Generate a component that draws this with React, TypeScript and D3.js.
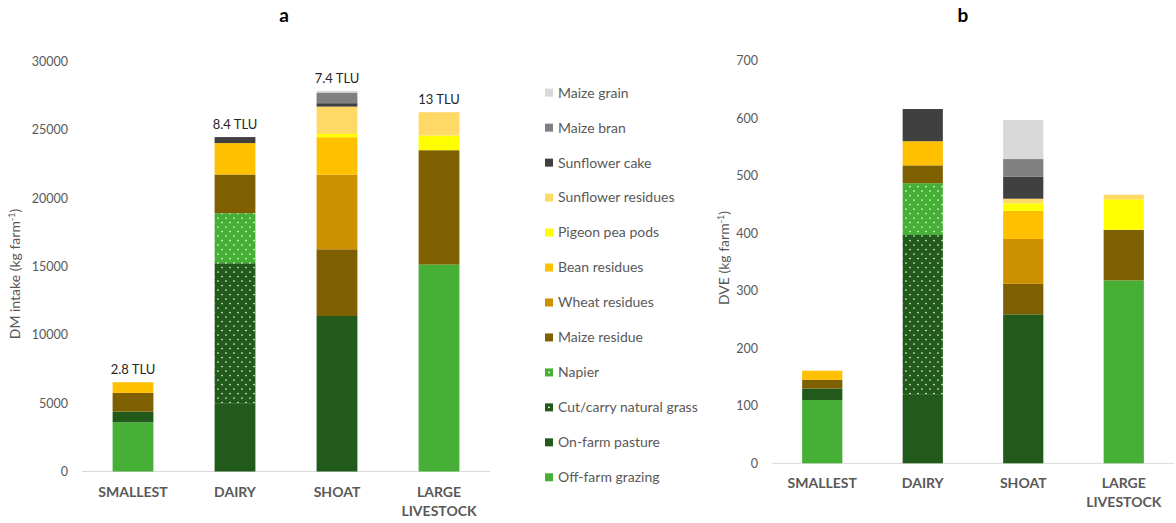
import React, { useEffect, useRef } from "react";
import * as d3 from "d3";

const categories = ["SMALLEST", "DAIRY", "SHOAT", "LARGE LIVESTOCK"];
const tluLabels = ["2.8 TLU", "8.4 TLU", "7.4 TLU", "13 TLU"];

// stacking order bottom -> top
const seriesNames = [
  "Off-farm grazing",
  "On-farm pasture",
  "Cut/carry natural grass",
  "Napier",
  "Maize residue",
  "Wheat residues",
  "Bean residues",
  "Pigeon pea pods",
  "Sunflower residues",
  "Sunflower cake",
  "Maize bran",
  "Maize grain",
];

const seriesColors = [
  "#45B035",
  "#215A1A",
  "#215A1A",
  "#45B035",
  "#7F6000",
  "#CC9000",
  "#FFC000",
  "#FFFF00",
  "#FFD966",
  "#404040",
  "#808080",
  "#D9D9D9",
];
const dotted = [false, false, true, true, false, false, false, false, false, false, false, false];

// DM intake (kg farm-1), per series: [SMALLEST, DAIRY, SHOAT, LARGE LIVESTOCK]
const dmOffFarm = [3600, 0, 0, 15140];
const dmOnFarm = [780, 5000, 11380, 0];
const dmCutCarry = [0, 10240, 0, 0];
const dmNapier = [0, 3660, 0, 0];
const dmMaizeResidue = [1370, 2830, 4880, 8370];
const dmWheat = [0, 0, 5460, 0];
const dmBean = [780, 2300, 2740, 0];
const dmPigeonPea = [0, 0, 240, 1070];
const dmSunflowerRes = [0, 0, 2000, 1710];
const dmSunflowerCake = [0, 440, 250, 0];
const dmMaizeBran = [0, 0, 780, 0];
const dmMaizeGrain = [0, 0, 125, 0];

// DVE (kg farm-1)
const dveOffFarm = [110, 0, 0, 318];
const dveOnFarm = [20, 119, 259, 0];
const dveCutCarry = [0, 278, 0, 0];
const dveNapier = [0, 90, 0, 0];
const dveMaizeResidue = [15, 31, 53, 88];
const dveWheat = [0, 0, 78, 0];
const dveBean = [16, 42, 49, 0];
const dvePigeonPea = [0, 0, 13, 53];
const dveSunflowerRes = [0, 0, 8, 8];
const dveSunflowerCake = [0, 56, 38, 0];
const dveMaizeBran = [0, 0, 31, 0];
const dveMaizeGrain = [0, 0, 68, 0];

const dmTicks = [0, 5000, 10000, 15000, 20000, 25000, 30000];
const dveTicks = [0, 100, 200, 300, 400, 500, 600, 700];

const dmSeries = [dmOffFarm, dmOnFarm, dmCutCarry, dmNapier, dmMaizeResidue, dmWheat, dmBean, dmPigeonPea, dmSunflowerRes, dmSunflowerCake, dmMaizeBran, dmMaizeGrain];
const dveSeries = [dveOffFarm, dveOnFarm, dveCutCarry, dveNapier, dveMaizeResidue, dveWheat, dveBean, dvePigeonPea, dveSunflowerRes, dveSunflowerCake, dveMaizeBran, dveMaizeGrain];

const FONT = "Lato, 'Open Sans', sans-serif";
const GRAY = "#595959";

function buildRows(series: number[][]) {
  return categories.map((c, i) => {
    const row: any = { cat: c };
    seriesNames.forEach((s, j) => (row[s] = series[j][i]));
    return row;
  });
}

export default function App() {
  const ref = useRef<SVGSVGElement>(null);

  useEffect(() => {
    const svg = d3.select(ref.current);
    svg.selectAll("*").remove();

    const defs = svg.append("defs");
    seriesNames.forEach((s, j) => {
      if (!dotted[j]) return;
      const p = defs
        .append("pattern")
        .attr("id", "dots" + j)
        .attr("patternUnits", "userSpaceOnUse")
        .attr("width", 8)
        .attr("height", 9)
        .attr("x", 0)
        .attr("y", 0);
      p.append("rect").attr("width", 8).attr("height", 9).attr("fill", seriesColors[j]);
      p.append("circle").attr("cx", 2).attr("cy", 2).attr("r", 0.85).attr("fill", "#ffffff").attr("opacity", 0.9);
      p.append("circle").attr("cx", 6).attr("cy", 6.5).attr("r", 0.85).attr("fill", "#ffffff").attr("opacity", 0.9);
    });
    const fillFor = (j: number) => (dotted[j] ? `url(#dots${j})` : seriesColors[j]);

    function drawChart(opts: {
      series: number[][];
      x0: number;
      x1: number;
      y0: number;
      y1: number;
      max: number;
      ticks: number[];
      tickX: number;
      title: string;
      titleX: number;
      yLabel: string;
      yLabelX: number;
      yLabelY: number;
      tlu: boolean;
    }) {
      const g = svg.append("g");
      const x = d3.scaleBand<string>().domain(categories).range([opts.x0, opts.x1]).paddingInner(0.6).paddingOuter(0.3);
      const y = d3.scaleLinear().domain([0, opts.max]).range([opts.y0, opts.y1]);
      const rows = buildRows(opts.series);
      const stacked = d3.stack<any>().keys(seriesNames)(rows);

      // axis line
      g.append("line")
        .attr("x1", opts.x0)
        .attr("x2", opts.x1)
        .attr("y1", y(0))
        .attr("y2", y(0))
        .attr("stroke", "#D9D9D9")
        .attr("stroke-width", 1);

      stacked.forEach((layer, j) => {
        g.append("g")
          .selectAll("rect")
          .data(layer.filter((d) => d[1] - d[0] > 0))
          .join("rect")
          .attr("x", (d) => x(d.data.cat)!)
          .attr("width", x.bandwidth())
          .attr("y", (d) => y(d[1]))
          .attr("height", (d) => y(d[0]) - y(d[1]))
          .attr("fill", fillFor(j));
      });

      // ticks
      g.append("g")
        .selectAll("text")
        .data(opts.ticks)
        .join("text")
        .attr("x", opts.tickX)
        .attr("y", (d) => y(d))
        .attr("dy", "0.35em")
        .attr("text-anchor", "end")
        .attr("font-family", FONT)
        .attr("font-size", 12.5)
        .attr("fill", GRAY)
        .text((d) => String(d));

      // category labels
      categories.forEach((c) => {
        const words = c.split(" ");
        const t = g
          .append("text")
          .attr("x", x(c)! + x.bandwidth() / 2)
          .attr("y", y(0) + 25)
          .attr("text-anchor", "middle")
          .attr("font-family", FONT)
          .attr("font-size", 14)
          .attr("font-weight", "bold")
          .attr("fill", GRAY);
        words.forEach((w, k) => {
          t.append("tspan")
            .attr("x", x(c)! + x.bandwidth() / 2)
            .attr("dy", k === 0 ? 0 : 19)
            .text(w);
        });
      });

      // TLU labels
      if (opts.tlu) {
        categories.forEach((c, i) => {
          const total = d3.sum(opts.series, (s) => s[i]);
          g.append("text")
            .attr("x", x(c)! + x.bandwidth() / 2)
            .attr("y", y(total) - 8)
            .attr("text-anchor", "middle")
            .attr("font-family", FONT)
            .attr("font-size", 13)
            .attr("fill", "#262626")
            .text(tluLabels[i]);
        });
      }

      // title
      g.append("text")
        .attr("x", opts.titleX)
        .attr("y", 22)
        .attr("text-anchor", "middle")
        .attr("font-family", FONT)
        .attr("font-size", 19)
        .attr("font-weight", "bold")
        .attr("fill", "#000")
        .text(opts.title);

      // y label
      const yl = g
        .append("text")
        .attr("transform", `translate(${opts.yLabelX},${opts.yLabelY}) rotate(-90)`)
        .attr("text-anchor", "middle")
        .attr("font-family", FONT)
        .attr("font-size", 14)
        .attr("fill", GRAY);
      yl.append("tspan").text(opts.yLabel);
      yl.append("tspan").attr("font-size", 9).attr("dy", -5).text("-1");
      yl.append("tspan").attr("dy", 5).text(")");
    }

    drawChart({
      series: dmSeries,
      x0: 82,
      x1: 490,
      y0: 471.5,
      y1: 61.5,
      max: 30000,
      ticks: dmTicks,
      tickX: 68,
      title: "a",
      titleX: 284,
      yLabel: "DM intake (kg farm",
      yLabelX: 20,
      yLabelY: 274,
      tlu: true,
    });

    drawChart({
      series: dveSeries,
      x0: 772,
      x1: 1174,
      y0: 463.3,
      y1: 60.7,
      max: 700,
      ticks: dveTicks,
      tickX: 758,
      title: "b",
      titleX: 963,
      yLabel: "DVE (kg farm",
      yLabelX: 729,
      yLabelY: 258,
      tlu: false,
    });

    // legend (top -> bottom is reverse of stack order)
    const legendItems = seriesNames.map((s, j) => ({ s, j })).reverse();
    const lg = svg.append("g");
    const ly = d3.scalePoint<number>().domain(legendItems.map((d, i) => i)).range([92.7, 477.3]);
    legendItems.forEach((d, i) => {
      const cy = ly(i)!;
      lg.append("rect")
        .attr("x", 545)
        .attr("y", cy - 4)
        .attr("width", 8)
        .attr("height", 8)
        .attr("fill", seriesColors[d.j]);
      if (dotted[d.j]) {
        lg.append("circle").attr("cx", 549).attr("cy", cy).attr("r", 0.9).attr("fill", "#fff");
      }
      lg.append("text")
        .attr("x", 558)
        .attr("y", cy)
        .attr("dy", "0.35em")
        .attr("font-family", FONT)
        .attr("font-size", 14)
        .attr("fill", GRAY)
        .text(d.s);
    });
  }, []);

  return (
    <svg
      ref={ref}
      width={1176}
      height={523}
      style={{ position: "absolute", left: 0, top: 0, background: "#fff", display: "block" }}
    />
  );
}
